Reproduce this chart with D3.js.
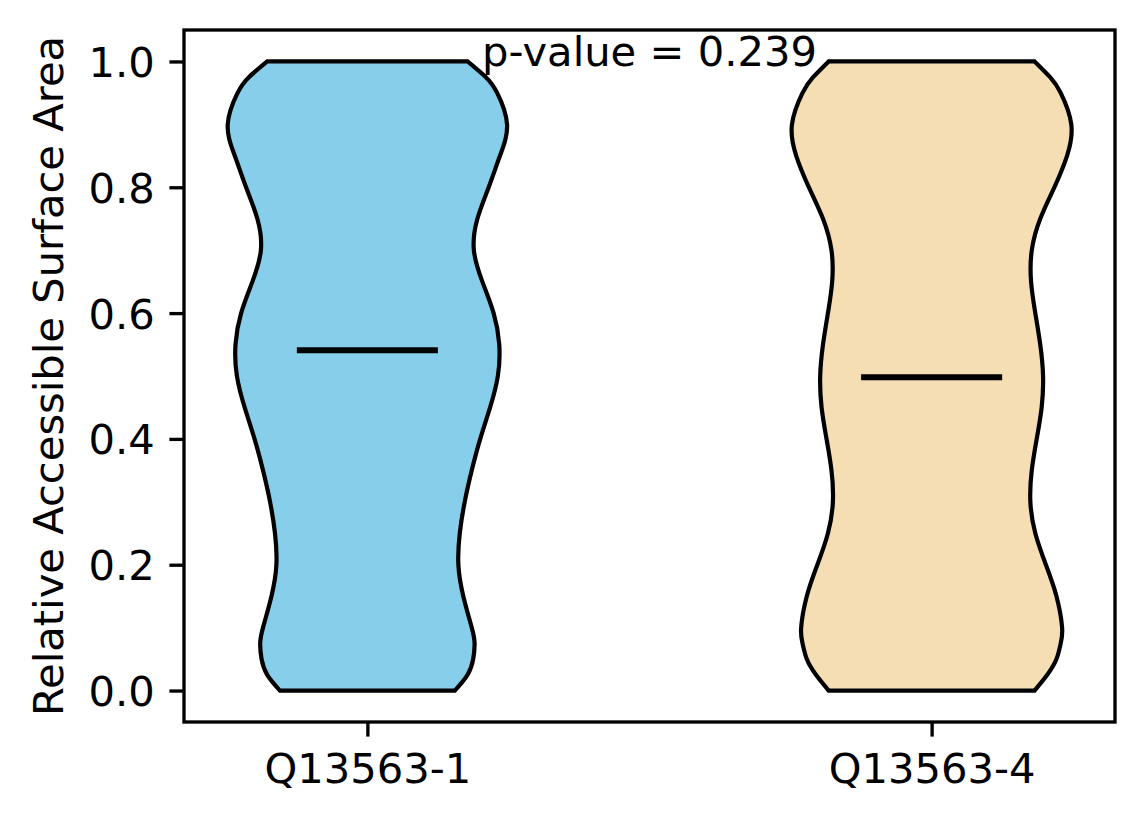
<!DOCTYPE html>
<html>
<head>
<meta charset="utf-8">
<script src="https://cdn.jsdelivr.net/npm/d3@7"></script>
<style>
  body { margin: 0; background: #fff; }
  text { font-family: "DejaVu Sans", sans-serif; fill: #000; }
</style>
</head>
<body>
<div id="chart"></div>
<script>
// categories and their colours
const categories = ["Q13563-1", "Q13563-4"];
const positions = [1, 2];
const colors = ["#87CEEB", "#F5DEB3"];

// y levels where the density outline was read
const levels = [0, 0.025, 0.05, 0.075, 0.1, 0.15, 0.2, 0.25, 0.3, 0.35, 0.4, 0.45,
                0.5, 0.55, 0.6, 0.65, 0.7, 0.75, 0.8, 0.85, 0.9, 0.95, 0.975, 1.0];

// scaled kde (max = 1) for each violin
const density1 = [0.62, 0.71, 0.75, 0.76, 0.74, 0.68, 0.645, 0.655, 0.69, 0.74, 0.80, 0.87,
                  0.925, 0.935, 0.895, 0.815, 0.755, 0.78, 0.86, 0.94, 0.99, 0.92, 0.84, 0.71];
const density2 = [0.73, 0.82, 0.885, 0.915, 0.925, 0.885, 0.81, 0.735, 0.70, 0.71, 0.745, 0.78,
                  0.79, 0.77, 0.735, 0.705, 0.71, 0.77, 0.87, 0.96, 0.99, 0.915, 0.84, 0.73];
const densities = [density1, density2];

const medians = [0.541, 0.498];
const yTicks = [0.0, 0.2, 0.4, 0.6, 0.8, 1.0];
const pValueLabel = "p-value = 0.239";
const pValuePos = [1.5, 1.0];
const yLabel = "Relative Accessible Surface Area";

const violinWidth = 0.5;

const width = 1144, height = 824;
const margin = { top: 30, right: 29, bottom: 102, left: 184 };
const fontSize = 41.67;
const tickLen = 14.6, tickPad = 14.6, lw = 3.33;

const svg = d3.select("#chart").append("svg")
  .attr("width", width)
  .attr("height", height);

svg.append("rect").attr("width", width).attr("height", height).attr("fill", "#fff");

const x = d3.scaleLinear()
  .domain([0.675, 2.325])
  .range([margin.left, width - margin.right]);

const y = d3.scaleLinear()
  .domain([-0.05, 1.05])
  .range([height - margin.bottom, margin.top]);

// violins: left and right outlines are smooth curves, top and bottom are flat
const edge = d3.line().curve(d3.curveNatural);

densities.forEach((dens, i) => {
  const right = levels.map((v, j) => [x(positions[i] + dens[j] * violinWidth / 2), y(v)]);
  const left = levels.map((v, j) => [x(positions[i] - dens[j] * violinWidth / 2), y(v)]).reverse();
  const d = edge(right) + "L" + edge(left).slice(1) + "Z";
  svg.append("path")
    .attr("d", d)
    .attr("fill", colors[i])
    .attr("stroke", "#000")
    .attr("stroke-width", 4.2)
    .attr("stroke-linejoin", "miter");
});

// median lines
svg.selectAll("line.median")
  .data(medians)
  .enter().append("line")
  .attr("class", "median")
  .attr("x1", (d, i) => x(positions[i] - violinWidth / 4))
  .attr("x2", (d, i) => x(positions[i] + violinWidth / 4))
  .attr("y1", d => y(d))
  .attr("y2", d => y(d))
  .attr("stroke", "#000")
  .attr("stroke-width", 6);

// frame
svg.append("rect")
  .attr("x", x.range()[0])
  .attr("y", y.range()[1])
  .attr("width", x.range()[1] - x.range()[0])
  .attr("height", y.range()[0] - y.range()[1])
  .attr("fill", "none")
  .attr("stroke", "#000")
  .attr("stroke-width", lw);

// y axis
const yAxis = svg.append("g")
  .attr("transform", `translate(${margin.left},0)`)
  .call(d3.axisLeft(y).tickValues(yTicks).tickFormat(d3.format(".1f"))
    .tickSize(tickLen).tickPadding(tickPad));
yAxis.select(".domain").remove();
yAxis.selectAll(".tick line").attr("stroke", "#000").attr("stroke-width", lw);
yAxis.selectAll(".tick text")
  .attr("font-size", fontSize)
  .attr("font-family", "DejaVu Sans")
  .attr("dy", "0.36em");

// x axis
const xAxis = svg.append("g")
  .attr("transform", `translate(0,${height - margin.bottom})`)
  .call(d3.axisBottom(x).tickValues(positions).tickFormat((d, i) => categories[i])
    .tickSize(tickLen).tickPadding(tickPad));
xAxis.select(".domain").remove();
xAxis.selectAll(".tick line").attr("stroke", "#000").attr("stroke-width", lw);
xAxis.selectAll(".tick text")
  .attr("font-size", fontSize)
  .attr("font-family", "DejaVu Sans")
  .attr("dy", "0.76em");

// y label
svg.append("text")
  .attr("transform", "rotate(-90)")
  .attr("x", -(y.range()[0] + y.range()[1]) / 2)
  .attr("y", 63)
  .attr("text-anchor", "middle")
  .attr("font-size", fontSize)
  .text(yLabel);

// p-value annotation
svg.append("text")
  .attr("x", x(pValuePos[0]))
  .attr("y", y(pValuePos[1]))
  .attr("dy", "0.1em")
  .attr("text-anchor", "middle")
  .attr("font-size", fontSize)
  .text(pValueLabel);
</script>
</body>
</html>
